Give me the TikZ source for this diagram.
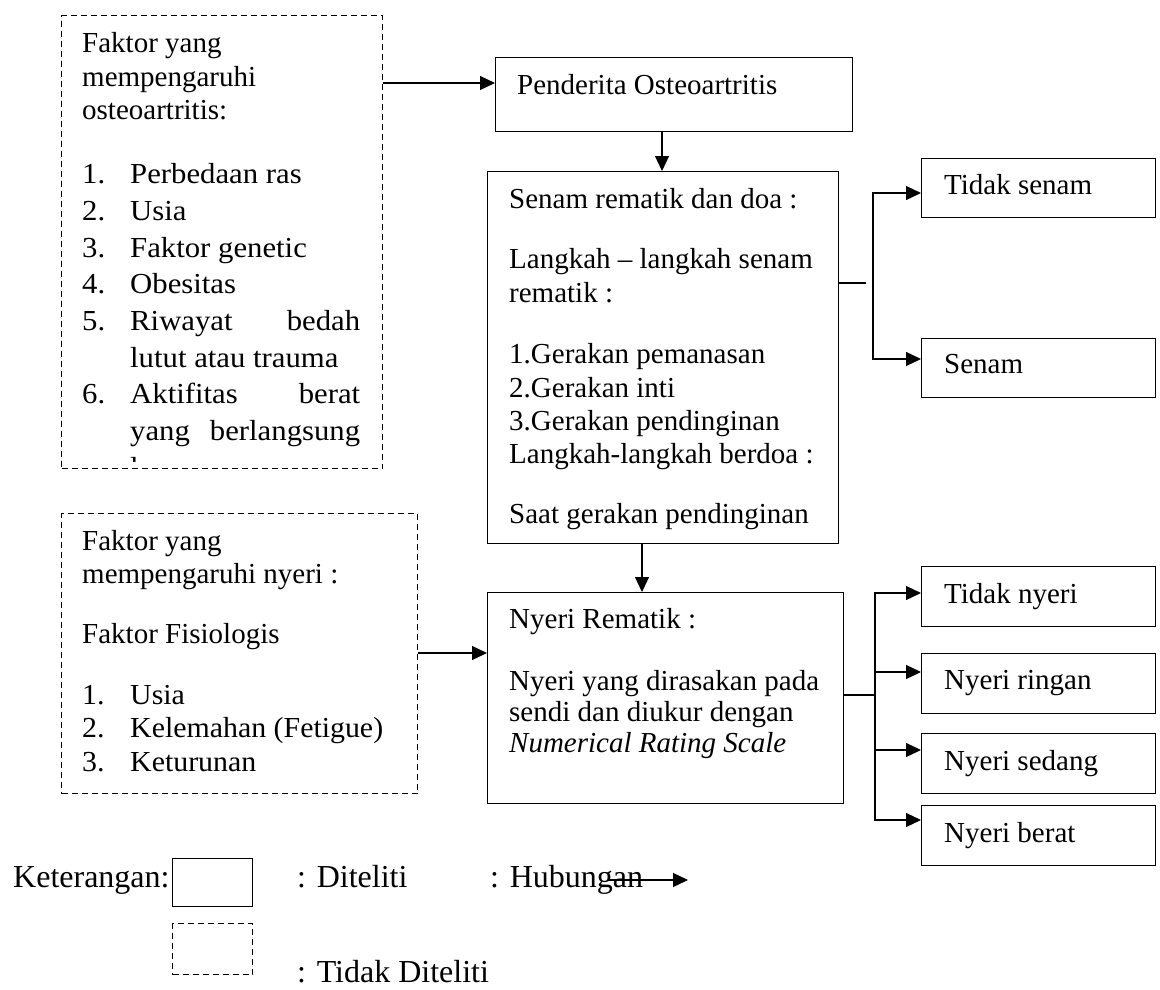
\documentclass[tikz,border=0pt]{standalone}
\usepackage{fontspec}
\setmainfont{Liberation Serif}
\newfontfamily\stretchA{Liberation Serif}[FakeStretch=1.06]
\newfontfamily\stretchB{Liberation Serif}[FakeStretch=1.03]
\usetikzlibrary{arrows.meta}
\begin{document}
\begin{tikzpicture}[x=1pt,y=-1pt,
  box/.style={draw,line width=1.2pt,rectangle,inner sep=0pt,anchor=north west},
  dbox/.style={box,dash pattern=on 6pt off 4pt},
  txt/.style={anchor=base west,inner sep=0pt,font=\fontsize{29}{33}\selectfont},
  ltxt/.style={anchor=base west,inner sep=0pt,font=\stretchA\fontsize{29}{33}\selectfont},
  mtxt/.style={anchor=base west,inner sep=0pt,font=\stretchB\fontsize{29}{33}\selectfont},
  lgtxt/.style={anchor=base west,inner sep=0pt,font=\fontsize{32}{36}\selectfont},
  ln/.style={line width=1.2pt},
  arr/.style={line width=1.2pt,-{Triangle[length=15pt,width=14pt]}},
  arrb/.style={line width=1.2pt,{Triangle[length=15pt,width=14pt]}-{Triangle[length=15pt,width=14pt]}}]
\useasboundingbox (0,0) rectangle (1160,990);

% ---------- boxes ----------
\node[dbox,minimum width=321pt,minimum height=453pt] (b1) at (61,15) {};
\node[dbox,minimum width=356pt,minimum height=280pt] (b3) at (61,513) {};
\node[box,minimum width=357pt,minimum height=74pt] (pen) at (495,57) {};
\node[box,minimum width=351pt,minimum height=372pt] (sen) at (487,171) {};
\node[box,minimum width=356pt,minimum height=211pt] (ny) at (487,592) {};
\node[box,minimum width=234pt,minimum height=59pt] (ts) at (921,158) {};
\node[box,minimum width=234pt,minimum height=59pt] (sn) at (921,338) {};
\node[box,minimum width=234pt,minimum height=60pt] (tn) at (921,566) {};
\node[box,minimum width=234pt,minimum height=60pt] (nr) at (921,653) {};
\node[box,minimum width=234pt,minimum height=60pt] (nsd) at (921,733) {};
\node[box,minimum width=234pt,minimum height=60pt] (nb) at (921,805) {};
\node[box,minimum width=80pt,minimum height=48pt] (lg1) at (172,858) {};
\node[dbox,minimum width=80pt,minimum height=51pt] (lg2) at (172,923) {};

% ---------- box 1 text ----------
\node[txt] (b1a) at (82,53) {Faktor yang};
\node[txt] (b1b) at (82,87) {mempengaruhi};
\node[txt] (b1c) at (82,119) {osteoartritis:};
\node[ltxt] (b1n1) at (82,183) {1.};
\node[ltxt] (b1i1) at (130,183) {Perbedaan ras};
\node[ltxt] (b1n2) at (82,220) {2.};
\node[ltxt] (b1i2) at (130,220) {Usia};
\node[ltxt] (b1n3) at (82,257) {3.};
\node[ltxt] (b1i3) at (130,257) {Faktor genetic};
\node[ltxt] (b1n4) at (82,293) {4.};
\node[ltxt] (b1i4) at (130,293) {Obesitas};
\node[ltxt] (b1n5) at (82,330) {5.};
\node[ltxt] (b1i5) at (130,330) {\makebox[230pt][s]{Riwayat bedah}};
\node[ltxt] (b1i5b) at (130,367) {lutut atau trauma};
\node[ltxt] (b1n6) at (82,403) {6.};
\node[ltxt] (b1i6) at (130,403) {\makebox[230pt][s]{Aktifitas berat}};
\node[ltxt] (b1i6b) at (130,440) {\makebox[230pt][s]{yang berlangsung}};
\begin{scope}
\clip (61,15) rectangle (382,461);
\node[ltxt] (b1i6c) at (130,477) {lama};
\end{scope}

% ---------- box 3 text ----------
\node[txt] (b3a) at (82,550) {Faktor yang};
\node[txt] (b3b) at (82,583) {mempengaruhi nyeri :};
\node[txt] (b3c) at (82,643) {Faktor Fisiologis};
\node[mtxt] (b3n1) at (82,704) {1.};
\node[mtxt] (b3i1) at (130,704) {Usia};
\node[mtxt] (b3n2) at (82,737) {2.};
\node[mtxt] (b3i2) at (130,737) {Kelemahan (Fetigue)};
\node[mtxt] (b3n3) at (82,771) {3.};
\node[mtxt] (b3i3) at (130,771) {Keturunan};

% ---------- central texts ----------
\node[txt] (pent) at (517,95) {Penderita Osteoartritis};
\node[txt] (sen1) at (509,208) {Senam rematik dan doa :};
\node[txt] (sen2) at (509,268) {Langkah – langkah senam};
\node[txt] (sen3) at (509,302) {rematik :};
\node[txt] (sen4) at (509,363) {1.Gerakan pemanasan};
\node[txt] (sen5) at (509,397) {2.Gerakan inti};
\node[txt] (sen6) at (509,430) {3.Gerakan pendinginan};
\node[txt] (sen7) at (509,463) {Langkah-langkah berdoa :};
\node[txt] (sen8) at (509,523) {Saat gerakan pendinginan};
\node[txt] (ny1) at (509,628) {Nyeri Rematik :};
\node[txt] (ny2) at (509,690) {Nyeri yang dirasakan pada};
\node[txt] (ny3) at (509,721) {sendi dan diukur dengan};
\node[txt] (ny4) at (509,752) {\itshape Numerical Rating Scale};

% ---------- right texts ----------
\node[txt] (tst) at (944,194) {Tidak senam};
\node[txt] (snt) at (944,373) {Senam};
\node[txt] (tnt) at (944,603) {Tidak nyeri};
\node[txt] (nrt) at (944,689) {Nyeri ringan};
\node[txt] (nst) at (944,770) {Nyeri sedang};
\node[txt] (nbt) at (944,842) {Nyeri berat};

% ---------- legend ----------
\node[lgtxt] (k1) at (13,887) {Keterangan:};
\node[lgtxt] (k2) at (297,887) {: Diteliti};
\node[lgtxt] (k3) at (490,887) {: Hubungan};
\node[lgtxt] (k4) at (297,982) {: Tidak Diteliti};
\coordinate (la) at (608,880);
\coordinate (lb) at (688,880);
\draw[arr] (la) -- (lb);

% ---------- connectors ----------
\coordinate (p1) at (382,83);
\draw[arr] (b1.east |- p1) -- (pen.west |- p1);
\coordinate (p2) at (662,0);
\draw[arr] (pen.south -| p2) -- (sen.north -| p2);
\coordinate (p3) at (642,0);
\draw[arr] (sen.south -| p3) -- (ny.north -| p3);
\coordinate (p4) at (0,653);
\draw[arr] (b3.east |- p4) -- (ny.west |- p4);

\coordinate (s1) at (866,283);
\draw[ln] (sen.east |- s1) -- (s1);
\coordinate (v1t) at (873,193);
\coordinate (v1b) at (873,359);
\draw[arrb] (v1t -| ts.west) -- (v1t) -- (v1b) -- (v1b -| sn.west);

\coordinate (s2) at (875,695);
\draw[ln] (ny.east |- s2) -- (s2);
\coordinate (v2t) at (875,593);
\coordinate (v2r) at (875,672);
\coordinate (v2s) at (875,750);
\coordinate (v2b) at (875,820);
\draw[arrb] (v2t -| tn.west) -- (v2t) -- (v2b) -- (v2b -| nb.west);
\draw[arr] (v2r) -- (v2r -| nr.west);
\draw[arr] (v2s) -- (v2s -| nsd.west);
\end{tikzpicture}
\end{document}
